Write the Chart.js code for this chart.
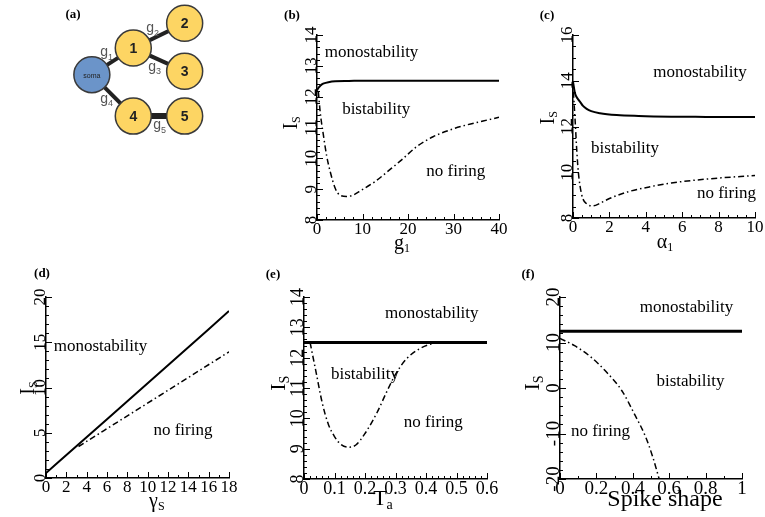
<!DOCTYPE html>
<html>
<head>
<meta charset="utf-8">
<script src="https://cdn.jsdelivr.net/npm/chart.js@4.4.1/dist/chart.umd.min.js"></script>
<style>
  body { margin: 0; background: #fff; }
  #wrap { position: relative; width: 765px; height: 517px; }
  canvas { position: absolute; left: 0; top: 0; }
</style>
</head>
<body>
<div id="wrap">
  <canvas id="pa" width="765" height="517"></canvas>
  <canvas id="pb" width="765" height="517"></canvas>
  <canvas id="pc" width="765" height="517"></canvas>
  <canvas id="pd" width="765" height="517"></canvas>
  <canvas id="pe" width="765" height="517"></canvas>
  <canvas id="pf" width="765" height="517"></canvas>
</div>
<script>
const SERIF = '"Liberation Serif", "DejaVu Serif", serif';
const SANS = '"Liberation Sans", Arial, sans-serif';
const W = 765, H = 517;

// (a) network layout
const nodeNames = ['soma', '1', '2', '3', '4', '5'];
const nodeX = [0, 1, 2.24, 2.24, 1, 2.24];
const nodeY = [0, 0.64, 1.24, 0.08, -1, -1];
const edgeFrom = [0, 1, 1, 0, 4];
const edgeTo = [1, 2, 3, 4, 5];
const edgeSubs = ['1', '2', '3', '4', '5'];
const edgeLabelX = [0.365, 1.476, 1.524, 0.365, 1.645];
const edgeLabelY = [0.52, 1.1, 0.16, -0.61, -1.24];

// (b) Is vs g1
const bSolidX = [0, 0.3, 0.7, 1.0, 1.5, 2.5, 4, 7, 10, 20, 30, 40];
const bSolidY = [12.2, 12.28, 12.35, 12.39, 12.43, 12.47, 12.5, 12.51, 12.52, 12.52, 12.52, 12.52];
const bDashX = [0.3, 0.7, 1.4, 2.1, 2.9, 4, 5, 6.5, 8, 9.8, 12.7, 16.4, 18.6, 21.9, 25.5, 29.2, 32.8, 36.5, 40];
const bDashY = [12.16, 11.5, 10.76, 10.1, 9.57, 9.03, 8.81, 8.76, 8.81, 8.97, 9.24, 9.68, 9.95, 10.38, 10.7, 10.92, 11.08, 11.21, 11.33];
const bXTicks = [0, 10, 20, 30, 40];
const bYTicks = [8, 9, 10, 11, 12, 13, 14];

// (c) Is vs alpha1
const cSolidX = [0, 0.11, 0.25, 0.38, 0.55, 0.75, 1.0, 1.48, 2.4, 3.6, 5.4, 7.3, 10];
const cSolidY = [13.96, 13.45, 13.22, 13.09, 12.9, 12.77, 12.67, 12.58, 12.5, 12.46, 12.43, 12.42, 12.41];
const cDashX = [0.02, 0.11, 0.2, 0.29, 0.48, 0.75, 1.1, 1.5, 2.0, 3.0, 4.2, 5.4, 7.3, 10];
const cDashY = [13.52, 12.36, 11.05, 10.03, 9.01, 8.62, 8.53, 8.65, 8.85, 9.14, 9.36, 9.53, 9.70, 9.86];
const cXTicks = [0, 2, 4, 6, 8, 10];
const cYTicks = [8, 10, 12, 14, 16];

// (d) Is vs gammaS
const dSolidX = [0, 6, 12, 18];
const dSolidY = [0.55, 6.5, 12.45, 18.45];
const dDashX = [3.2, 10.6, 18];
const dDashY = [3.48, 8.7, 13.94];
const dXTicks = [0, 2, 4, 6, 8, 10, 12, 14, 16, 18];
const dYTicks = [0, 5, 10, 15, 20];

// (e) Is vs Ta
const eSolidX = [0, 0.6];
const eSolidY = [12.5, 12.5];
const eDashX = [0.02, 0.04, 0.06, 0.08, 0.1, 0.12, 0.145, 0.17, 0.2, 0.24, 0.27, 0.3, 0.335, 0.38, 0.42, 0.44];
const eDashY = [12.5, 11.5, 10.5, 9.8, 9.4, 9.15, 9.05, 9.12, 9.5, 10.2, 10.85, 11.45, 11.95, 12.3, 12.46, 12.5];
const eXTicks = [0, 0.1, 0.2, 0.3, 0.4, 0.5, 0.6];
const eYTicks = [8, 9, 10, 11, 12, 13, 14];

// (f) Is vs spike shape
const fSolidX = [0, 1];
const fSolidY = [12.5, 12.5];
const fDashX = [0, 0.08, 0.17, 0.26, 0.34, 0.41, 0.47, 0.51, 0.545];
const fDashY = [10.9, 9.3, 6.8, 3.3, -0.6, -5.8, -10.7, -15.2, -20];
const fXTicks = [0, 0.2, 0.4, 0.6, 0.8, 1];
const fYTicks = [-20, -10, 0, 10, 20];

Chart.defaults.animation = false;

function steps(min, max, step) {
  const out = [];
  const n = Math.round((max - min) / step);
  for (let i = 0; i <= n; i++) out.push(min + i * step);
  return out;
}

function drawSub(ctx, base, sub, size, cx, cy) {
  const subSize = Math.round(size * 0.62);
  ctx.font = size + 'px ' + SERIF;
  const w1 = ctx.measureText(base).width;
  ctx.font = subSize + 'px ' + SERIF;
  const w2 = sub ? ctx.measureText(sub).width : 0;
  const x0 = cx - (w1 + w2) / 2;
  const baseY = cy + size * 0.33;
  ctx.textAlign = 'left';
  ctx.textBaseline = 'alphabetic';
  ctx.font = size + 'px ' + SERIF;
  ctx.fillText(base, x0, baseY);
  if (sub) {
    ctx.font = subSize + 'px ' + SERIF;
    ctx.fillText(sub, x0 + w1, baseY + size * 0.18);
  }
}

function deco(p) {
  return {
    id: 'deco',
    afterDraw(chart) {
      const ctx = chart.ctx, a = chart.chartArea;
      const sx = chart.scales.x, sy = chart.scales.y;
      ctx.save();
      ctx.strokeStyle = '#000';
      ctx.fillStyle = '#000';
      ctx.lineWidth = 1;
      // inward ticks
      ctx.beginPath();
      steps(p.x[0], p.x[1], p.xMinor).forEach(v => {
        const px = Math.round(sx.getPixelForValue(v)) + 0.5;
        ctx.moveTo(px, a.bottom); ctx.lineTo(px, a.bottom - 3);
      });
      p.xTicks.forEach(v => {
        const px = Math.round(sx.getPixelForValue(v)) + 0.5;
        ctx.moveTo(px, a.bottom); ctx.lineTo(px, a.bottom - 6);
      });
      steps(p.y[0], p.y[1], p.yMinor).forEach(v => {
        const py = Math.round(sy.getPixelForValue(v)) + 0.5;
        ctx.moveTo(a.left, py); ctx.lineTo(a.left + 3, py);
      });
      p.yTicks.forEach(v => {
        const py = Math.round(sy.getPixelForValue(v)) + 0.5;
        ctx.moveTo(a.left, py); ctx.lineTo(a.left + 6, py);
      });
      ctx.stroke();

      // tick labels
      ctx.font = p.tickSize + 'px ' + SERIF;
      ctx.textAlign = 'center';
      ctx.textBaseline = 'top';
      p.xTicks.forEach(v => ctx.fillText(String(v), sx.getPixelForValue(v), a.bottom + 1));
      p.yTicks.forEach(v => {
        ctx.save();
        ctx.translate(a.left - 1, sy.getPixelForValue(v));
        ctx.rotate(-Math.PI / 2);
        ctx.textAlign = 'center';
        ctx.textBaseline = 'alphabetic';
        ctx.fillText(String(v), 0, 0);
        ctx.restore();
      });

      // region texts
      ctx.font = '17px ' + SERIF;
      ctx.textAlign = 'center';
      ctx.textBaseline = 'middle';
      p.texts.forEach(t => ctx.fillText(t[0], sx.getPixelForValue(t[1]), sy.getPixelForValue(t[2])));

      // axis titles
      drawSub(ctx, p.xTitle[0], p.xTitle[1], p.titleSize, sx.getPixelForValue(p.xTitle[2]), a.bottom + p.xTitle[3]);
      ctx.save();
      ctx.translate(a.left - p.yTitleDx, sy.getPixelForValue(p.yTitleAt));
      ctx.rotate(-Math.PI / 2);
      drawSub(ctx, 'I', 'S', p.yTitleSize || p.titleSize, 0, 0);
      ctx.restore();

      // panel letter
      ctx.font = 'bold 13px ' + SERIF;
      ctx.textAlign = 'center';
      ctx.textBaseline = 'middle';
      ctx.fillText(p.letter, p.letterPos[0], p.letterPos[1]);
      ctx.restore();
    }
  };
}

function axis(range) {
  return {
    type: 'linear', min: range[0], max: range[1],
    grid: { display: false, drawTicks: false },
    ticks: { display: false },
    border: { display: true, color: '#000', width: 1.5 }
  };
}

function panel(id, p) {
  return new Chart(document.getElementById(id), {
    type: 'scatter',
    data: {
      datasets: p.lines.map(l => ({
        data: l.xs.map((x, i) => ({ x: x, y: l.ys[i] })),
        showLine: true,
        borderColor: '#000',
        borderWidth: l.width,
        borderDash: l.dash || [],
        pointRadius: 0,
        cubicInterpolationMode: 'monotone'
      }))
    },
    options: {
      responsive: false,
      events: [],
      layout: { autoPadding: false, padding: { left: p.area[0], top: p.area[1], right: W - p.area[2], bottom: H - p.area[3] } },
      plugins: { legend: { display: false }, tooltip: { enabled: false } },
      scales: { x: axis(p.x), y: axis(p.y) }
    },
    plugins: [deco(p)]
  });
}

const DASH = [6, 3, 1.5, 3];

panel('pb', {
  area: [317, 35, 499, 220], x: [0, 40], y: [8, 14], xMinor: 2, yMinor: 0.2,
  xTicks: bXTicks, yTicks: bYTicks, tickSize: 17, titleSize: 20,
  lines: [
    { xs: bSolidX, ys: bSolidY, width: 2 },
    { xs: bDashX, ys: bDashY, width: 1.5, dash: DASH }
  ],
  texts: [['monostability', 12.0, 13.42], ['bistability', 13.0, 11.57], ['no firing', 30.5, 9.56]],
  xTitle: ['g', '1', 18.7, 22], yTitleDx: 27, yTitleAt: 11.15,
  letter: '(b)', letterPos: [292, 16]
});

panel('pc', {
  area: [573, 35, 755, 218], x: [0, 10], y: [8, 16], xMinor: 0.5, yMinor: 0.5,
  xTicks: cXTicks, yTicks: cYTicks, tickSize: 17, titleSize: 20,
  lines: [
    { xs: cSolidX, ys: cSolidY, width: 2 },
    { xs: cDashX, ys: cDashY, width: 1.5, dash: DASH }
  ],
  texts: [['monostability', 6.98, 14.38], ['bistability', 2.86, 11.02], ['no firing', 8.43, 9.06]],
  xTitle: ['α', '1', 5.05, 23], yTitleDx: 26, yTitleAt: 12.38,
  letter: '(c)', letterPos: [547, 16]
});

panel('pd', {
  area: [46, 297, 229, 478], x: [0, 18], y: [0, 20], xMinor: 1, yMinor: 1,
  xTicks: dXTicks, yTicks: dYTicks, tickSize: 17, titleSize: 20, yTitleSize: 20,
  lines: [
    { xs: dSolidX, ys: dSolidY, width: 2 },
    { xs: dDashX, ys: dDashY, width: 1.5, dash: DASH }
  ],
  texts: [['monostability', 5.36, 14.48], ['no firing', 13.47, 5.19]],
  xTitle: ['γ', 'S', 10.9, 22], yTitleDx: 19, yTitleAt: 9.94,
  letter: '(d)', letterPos: [42, 274]
});

panel('pe', {
  area: [304, 297, 487, 479], x: [0, 0.6], y: [8, 14], xMinor: 0.02, yMinor: 0.2,
  xTicks: eXTicks, yTicks: eYTicks, tickSize: 18, titleSize: 22,
  lines: [
    { xs: eSolidX, ys: eSolidY, width: 3 },
    { xs: eDashX, ys: eDashY, width: 1.5, dash: DASH }
  ],
  texts: [['monostability', 0.419, 13.47], ['bistability', 0.2, 11.43], ['no firing', 0.424, 9.85]],
  xTitle: ['T', 'a', 0.259, 19], yTitleDx: 26, yTitleAt: 11.16,
  letter: '(e)', letterPos: [273, 275]
});

panel('pf', {
  area: [560, 297, 742, 479], x: [0, 1], y: [-20, 20], xMinor: 0.1, yMinor: 2,
  xTicks: fXTicks, yTicks: fYTicks, tickSize: 19, titleSize: 24, yTitleSize: 22,
  lines: [
    { xs: fSolidX, ys: fSolidY, width: 3 },
    { xs: fDashX, ys: fDashY, width: 1.5, dash: DASH }
  ],
  texts: [['monostability', 0.695, 17.58], ['bistability', 0.717, 1.32], ['no firing', 0.222, -9.67]],
  xTitle: ['Spike shape', '', 0.577, 19], yTitleDx: 28, yTitleAt: 1.1,
  letter: '(f)', letterPos: [528, 275]
});

// (a) network diagram
const netLabels = {
  id: 'netLabels',
  afterDraw(chart) {
    const ctx = chart.ctx, sx = chart.scales.x, sy = chart.scales.y;
    ctx.save();
    ctx.textAlign = 'center';
    ctx.textBaseline = 'middle';
    ctx.fillStyle = '#222';
    nodeNames.forEach((n, i) => {
      ctx.font = n === 'soma' ? '7px ' + SANS : 'bold 14px ' + SANS;
      ctx.fillText(n, sx.getPixelForValue(nodeX[i]), sy.getPixelForValue(nodeY[i]) + 1);
    });
    ctx.fillStyle = '#555';
    edgeSubs.forEach((s, k) => {
      const px = sx.getPixelForValue(edgeLabelX[k]), py = sy.getPixelForValue(edgeLabelY[k]);
      ctx.font = '14px ' + SANS;
      ctx.textAlign = 'right';
      ctx.fillText('g', px + 1, py - 1);
      ctx.font = '9px ' + SANS;
      ctx.textAlign = 'left';
      ctx.fillText(s, px + 1, py + 4);
    });
    ctx.fillStyle = '#000';
    ctx.textAlign = 'center';
    ctx.font = 'bold 13px ' + SERIF;
    ctx.fillText('(a)', 73, 15);
    ctx.restore();
  }
};

const edgeSets = edgeFrom.map((f, k) => ({
  data: [{ x: nodeX[f], y: nodeY[f] }, { x: nodeX[edgeTo[k]], y: nodeY[edgeTo[k]] }],
  showLine: true, borderColor: '#222', borderWidth: k === 4 ? 6 : 4,
  pointRadius: 0, clip: false
}));

new Chart(document.getElementById('pa'), {
  type: 'scatter',
  data: {
    datasets: edgeSets.concat([{
      data: nodeX.map((x, i) => ({ x: x, y: nodeY[i] })),
      pointRadius: 18,
      pointBackgroundColor: nodeNames.map(n => n === 'soma' ? '#6b94c9' : '#fdd563'),
      pointBorderColor: '#3a3a3a',
      pointBorderWidth: 1.5,
      clip: false,
      order: -1
    }])
  },
  options: {
    responsive: false,
    events: [],
    layout: { autoPadding: false, padding: { left: 67, top: 0, right: W - 212, bottom: H - 141 } },
    plugins: { legend: { display: false }, tooltip: { enabled: false } },
    scales: {
      x: { type: 'linear', min: -0.6, max: 2.9, display: false },
      y: { type: 'linear', min: -1.6, max: 1.8, display: false }
    }
  },
  plugins: [netLabels]
});
</script>
</body>
</html>
